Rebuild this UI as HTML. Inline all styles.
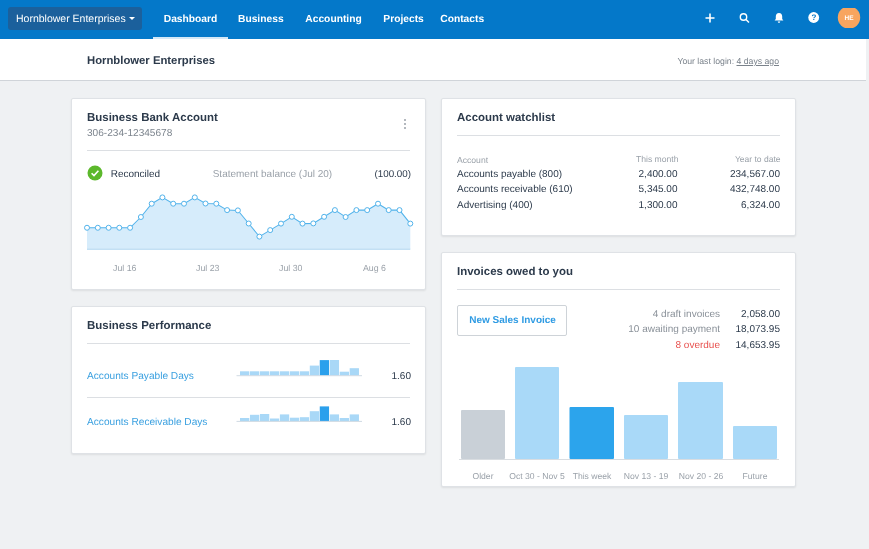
<!DOCTYPE html>
<html><head><meta charset="utf-8">
<style>
*{box-sizing:border-box;margin:0;padding:0}
html,body{width:869px;height:549px;overflow:hidden}
body{text-rendering:geometricPrecision;background:#eff1f3;font-family:"Liberation Sans",Arial,sans-serif;color:#2c3a4b;position:relative;font-size:10px}
.abs{position:absolute}
#nav{position:absolute;left:0;top:0;width:869px;height:39px;background:#0478c9}
#org{position:absolute;left:8px;top:6.500px;width:133.500px;height:23px;background:#1b609c;border-radius:3px;color:#fff;font-size:10.5px;line-height:24.600px;padding-left:8px;white-space:nowrap}
.nl{position:absolute;top:1px;height:38px;line-height:38px;color:#fff;font-weight:bold;font-size:10.250px;transform:translateX(-50%);white-space:nowrap}
#sub{position:absolute;left:0;top:39px;width:865.500px;height:42px;background:#fff;border-bottom:1px solid #d0d4d9}
.card{position:absolute;background:#fff;border:1px solid #dfe2e6;border-radius:2px;box-shadow:0 1px 2px rgba(0,0,0,.08)}
.h{position:absolute;font-weight:bold;font-size:11.470px;color:#2c3a4b;white-space:nowrap}
.hr{position:absolute;height:1px;background:#dcdfe3}
.t{position:absolute;white-space:nowrap}
.g{color:#8a9199}
.r{text-align:right}
</style></head><body>
<div id="nav">
  <div id="org">Hornblower Enterprises <span style="display:inline-block;width:0;height:0;border-left:3.5px solid transparent;border-right:3.5px solid transparent;border-top:3.5px solid #fff;vertical-align:middle;margin-left:0px"></span></div>
  <div class="nl" style="left:190.500px">Dashboard</div>
  <div class="abs" style="left:153px;top:37px;width:75px;height:2px;background:#d4e8f7"></div>
  <div class="nl" style="left:260.800px">Business</div>
  <div class="nl" style="left:333.500px">Accounting</div>
  <div class="nl" style="left:403.600px">Projects</div>
  <div class="nl" style="left:462.200px">Contacts</div>
  <svg class="abs" style="left:700px;top:8.400px" width="162" height="20" viewBox="0 0 162 20">
    <path d="M10 5.5v9M5.5 10h9" stroke="#fff" stroke-width="1.6" fill="none"/>
    <circle cx="43.5" cy="9" r="3.2" stroke="#fff" stroke-width="1.4" fill="none"/><path d="M46 11.5l3 3" stroke="#fff" stroke-width="1.5"/>
    <path d="M79 5c-2.2 0-3.2 1.6-3.2 3.6v2.4l-1.2 1.6h8.8l-1.2-1.6V8.600c0-2-1-3.600-3.200-3.600zM77.800 13.400h2.400c0 .8-.5 1.300-1.200 1.300s-1.200-.5-1.200-1.300z" fill="#fff"/>
    <circle cx="113.700" cy="9.500" r="5.400" fill="#fff"/>
    <text x="114" y="12.400" font-size="8" font-weight="bold" fill="#0478c9" text-anchor="middle" font-family="Liberation Sans">?</text>
    <circle cx="149" cy="9.500" r="11.200" fill="#f8a55f"/>
    <text x="149" y="12" font-size="6.500" font-weight="bold" fill="#fff" text-anchor="middle" font-family="Liberation Sans">HE</text>
  </svg>
</div>
<div id="sub">
  <div class="t" style="left:87px;top:16px;font-weight:bold;font-size:11.300px;line-height:13px">Hornblower Enterprises</div>
  <div class="t" style="right:86.500px;top:15.600px;font-size:8.700px;line-height:12px;color:#7a828b">Your last login: <span style="text-decoration:underline">4 days ago</span></div>
</div>

<!-- Bank card -->
<div class="card" style="left:71px;top:97.500px;width:355px;height:192px"></div>
<div class="h" style="left:87px;top:111.400px;line-height:14px">Business Bank Account</div>
<div class="t" style="left:87px;top:127.500px;font-size:10.100px;line-height:11px;color:#7d858e">306-234-12345678</div>
<svg class="abs" style="left:402px;top:118px" width="6" height="12"><circle cx="3" cy="2" r="1" fill="#9aa1a9"/><circle cx="3" cy="6" r="1" fill="#9aa1a9"/><circle cx="3" cy="10" r="1" fill="#9aa1a9"/></svg>
<div class="hr" style="left:87px;top:150px;width:323px"></div>
<svg class="abs" style="left:87px;top:165px" width="16" height="16"><circle cx="8" cy="8" r="7.500" fill="#5cb82c"/><path d="M4.600 8.200l2.400 2.400 4.400-4.800" stroke="#fff" stroke-width="1.600" fill="none"/></svg>
<div class="t" style="left:110.700px;top:169px;font-size:10px;line-height:12px">Reconciled</div>
<div class="t g" style="left:212.700px;top:169px;font-size:10px;line-height:12px;color:#9aa1a9">Statement balance (Jul 20)</div>
<div class="t r" style="right:458px;top:169px;font-size:9.800px;line-height:12px">(100.00)</div>
<svg class="abs" style="left:80px;top:190px" width="340" height="65" viewBox="80 190 340 65" id="linechart"><polygon points="87.0,249 87.0,227.75 97.8,227.75 108.6,227.75 119.3,227.75 130.1,227.75 140.9,217 151.7,203.7 162.4,197.4 173.2,203.7 184.0,203.7 194.8,197.4 205.5,203.5 216.3,203.7 227.1,210.1 237.9,210.4 248.7,223.5 259.4,236.6 270.2,230.1 281.0,223.6 291.8,216.8 302.5,223.6 313.3,223.4 324.1,216.8 334.9,210.1 345.6,217 356.4,210.1 367.2,210.1 378.0,203.7 388.7,210.1 399.5,210.1 410.3,223.6 410.3,249" fill="#d6ecfb"/><rect x="87.0" y="248.5" width="323.3" height="1.5" fill="#c3e0f4"/><polyline points="87.0,227.75 97.8,227.75 108.6,227.75 119.3,227.75 130.1,227.75 140.9,217 151.7,203.7 162.4,197.4 173.2,203.7 184.0,203.7 194.8,197.4 205.5,203.5 216.3,203.7 227.1,210.1 237.9,210.4 248.7,223.5 259.4,236.6 270.2,230.1 281.0,223.6 291.8,216.8 302.5,223.6 313.3,223.4 324.1,216.8 334.9,210.1 345.6,217 356.4,210.1 367.2,210.1 378.0,203.7 388.7,210.1 399.5,210.1 410.3,223.6" fill="none" stroke="#52b3eb" stroke-width="1.05"/><circle cx="87.0" cy="227.75" r="2.5" fill="#fff" stroke="#52b3eb" stroke-width="1"/><circle cx="97.8" cy="227.75" r="2.5" fill="#fff" stroke="#52b3eb" stroke-width="1"/><circle cx="108.6" cy="227.75" r="2.5" fill="#fff" stroke="#52b3eb" stroke-width="1"/><circle cx="119.3" cy="227.75" r="2.5" fill="#fff" stroke="#52b3eb" stroke-width="1"/><circle cx="130.1" cy="227.75" r="2.5" fill="#fff" stroke="#52b3eb" stroke-width="1"/><circle cx="140.9" cy="217" r="2.5" fill="#fff" stroke="#52b3eb" stroke-width="1"/><circle cx="151.7" cy="203.7" r="2.5" fill="#fff" stroke="#52b3eb" stroke-width="1"/><circle cx="162.4" cy="197.4" r="2.5" fill="#fff" stroke="#52b3eb" stroke-width="1"/><circle cx="173.2" cy="203.7" r="2.5" fill="#fff" stroke="#52b3eb" stroke-width="1"/><circle cx="184.0" cy="203.7" r="2.5" fill="#fff" stroke="#52b3eb" stroke-width="1"/><circle cx="194.8" cy="197.4" r="2.5" fill="#fff" stroke="#52b3eb" stroke-width="1"/><circle cx="205.5" cy="203.5" r="2.5" fill="#fff" stroke="#52b3eb" stroke-width="1"/><circle cx="216.3" cy="203.7" r="2.5" fill="#fff" stroke="#52b3eb" stroke-width="1"/><circle cx="227.1" cy="210.1" r="2.5" fill="#fff" stroke="#52b3eb" stroke-width="1"/><circle cx="237.9" cy="210.4" r="2.5" fill="#fff" stroke="#52b3eb" stroke-width="1"/><circle cx="248.7" cy="223.5" r="2.5" fill="#fff" stroke="#52b3eb" stroke-width="1"/><circle cx="259.4" cy="236.6" r="2.5" fill="#fff" stroke="#52b3eb" stroke-width="1"/><circle cx="270.2" cy="230.1" r="2.5" fill="#fff" stroke="#52b3eb" stroke-width="1"/><circle cx="281.0" cy="223.6" r="2.5" fill="#fff" stroke="#52b3eb" stroke-width="1"/><circle cx="291.8" cy="216.8" r="2.5" fill="#fff" stroke="#52b3eb" stroke-width="1"/><circle cx="302.5" cy="223.6" r="2.5" fill="#fff" stroke="#52b3eb" stroke-width="1"/><circle cx="313.3" cy="223.4" r="2.5" fill="#fff" stroke="#52b3eb" stroke-width="1"/><circle cx="324.1" cy="216.8" r="2.5" fill="#fff" stroke="#52b3eb" stroke-width="1"/><circle cx="334.9" cy="210.1" r="2.5" fill="#fff" stroke="#52b3eb" stroke-width="1"/><circle cx="345.6" cy="217" r="2.5" fill="#fff" stroke="#52b3eb" stroke-width="1"/><circle cx="356.4" cy="210.1" r="2.5" fill="#fff" stroke="#52b3eb" stroke-width="1"/><circle cx="367.2" cy="210.1" r="2.5" fill="#fff" stroke="#52b3eb" stroke-width="1"/><circle cx="378.0" cy="203.7" r="2.5" fill="#fff" stroke="#52b3eb" stroke-width="1"/><circle cx="388.7" cy="210.1" r="2.5" fill="#fff" stroke="#52b3eb" stroke-width="1"/><circle cx="399.5" cy="210.1" r="2.5" fill="#fff" stroke="#52b3eb" stroke-width="1"/><circle cx="410.3" cy="223.6" r="2.5" fill="#fff" stroke="#52b3eb" stroke-width="1"/></svg>
<div class="t g" style="left:113px;top:262.500px;font-size:8.800px;line-height:11px;color:#9aa1a9">Jul 16</div>
<div class="t g" style="left:196px;top:262.500px;font-size:8.800px;line-height:11px;color:#9aa1a9">Jul 23</div>
<div class="t g" style="left:279px;top:262.500px;font-size:8.800px;line-height:11px;color:#9aa1a9">Jul 30</div>
<div class="t g" style="left:363px;top:262.500px;font-size:8.800px;line-height:11px;color:#9aa1a9">Aug 6</div>

<!-- Performance card -->
<div class="card" style="left:71px;top:305.500px;width:355px;height:148px"></div>
<div class="h" style="left:87px;top:319px;line-height:14px">Business Performance</div>
<div class="hr" style="left:87px;top:343px;width:323px"></div>
<div class="t" style="left:87px;top:370.500px;font-size:10.150px;line-height:12px;color:#3aa0e0">Accounts Payable Days</div>
<div class="t r" style="right:458px;top:371.200px;font-size:10px;line-height:12px">1.60</div>
<div class="hr" style="left:87px;top:397px;width:323px"></div>
<div class="t" style="left:87px;top:417px;font-size:10.150px;line-height:12px;color:#3aa0e0">Accounts Receivable Days</div>
<div class="t r" style="right:458px;top:417.400px;font-size:10px;line-height:12px">1.60</div>
<svg class="abs" style="left:236px;top:355px" width="130" height="72" viewBox="236 355 130 72" id="spark"><rect x="240.00" y="371.3" width="9.3" height="4.2" fill="#a9d8f7"/><rect x="249.97" y="371.3" width="9.3" height="4.2" fill="#a9d8f7"/><rect x="259.94" y="371.3" width="9.3" height="4.2" fill="#a9d8f7"/><rect x="269.91" y="371.3" width="9.3" height="4.2" fill="#a9d8f7"/><rect x="279.88" y="371.3" width="9.3" height="4.2" fill="#a9d8f7"/><rect x="289.85" y="371.3" width="9.3" height="4.2" fill="#a9d8f7"/><rect x="299.82" y="371.3" width="9.3" height="4.2" fill="#a9d8f7"/><rect x="309.79" y="365.6" width="9.3" height="9.9" fill="#a9d8f7"/><rect x="319.76" y="360.1" width="9.3" height="15.4" fill="#2ba0ec"/><rect x="329.73" y="360" width="9.3" height="15.5" fill="#a9d8f7"/><rect x="339.70" y="371.7" width="9.3" height="3.8" fill="#a9d8f7"/><rect x="349.67" y="368.2" width="9.3" height="7.3" fill="#a9d8f7"/><rect x="236.5" y="375.2" width="125.5" height="1" fill="#d0dae3"/><rect x="240.00" y="418" width="9.3" height="3.2" fill="#a9d8f7"/><rect x="249.97" y="414.8" width="9.3" height="6.4" fill="#a9d8f7"/><rect x="259.94" y="414" width="9.3" height="7.2" fill="#a9d8f7"/><rect x="269.91" y="418.5" width="9.3" height="2.7" fill="#a9d8f7"/><rect x="279.88" y="414.4" width="9.3" height="6.8" fill="#a9d8f7"/><rect x="289.85" y="417.7" width="9.3" height="3.5" fill="#a9d8f7"/><rect x="299.82" y="417.2" width="9.3" height="4.0" fill="#a9d8f7"/><rect x="309.79" y="411.2" width="9.3" height="10.0" fill="#a9d8f7"/><rect x="319.76" y="406.4" width="9.3" height="14.8" fill="#2ba0ec"/><rect x="329.73" y="414.4" width="9.3" height="6.8" fill="#a9d8f7"/><rect x="339.70" y="418" width="9.3" height="3.2" fill="#a9d8f7"/><rect x="349.67" y="414.4" width="9.3" height="6.8" fill="#a9d8f7"/><rect x="236.5" y="420.9" width="125.5" height="1" fill="#d0dae3"/></svg>

<!-- Watchlist -->
<div class="card" style="left:441px;top:97.500px;width:355px;height:138px"></div>
<div class="h" style="left:457px;top:111.400px;line-height:14px">Account watchlist</div>
<div class="hr" style="left:457px;top:135px;width:323px"></div>
<div class="t g" style="left:457px;top:155px;font-size:8.600px;line-height:10px;color:#9aa1a9">Account</div>
<div class="t g r" style="right:190.500px;top:154px;font-size:8.600px;line-height:10px;color:#9aa1a9">This month</div>
<div class="t g r" style="right:88.500px;top:154px;font-size:8.500px;line-height:10px;color:#9aa1a9">Year to date</div>
<div class="t" style="left:457px;top:169.200px;font-size:10px;line-height:12px">Accounts payable (800)</div>
<div class="t r" style="right:191.500px;top:169.200px;font-size:10px;line-height:12px">2,400.00</div>
<div class="t r" style="right:89px;top:169.200px;font-size:10px;line-height:12px">234,567.00</div>
<div class="t" style="left:457px;top:184.400px;font-size:10px;line-height:12px">Accounts receivable (610)</div>
<div class="t r" style="right:191.500px;top:184.400px;font-size:10px;line-height:12px">5,345.00</div>
<div class="t r" style="right:89px;top:184.400px;font-size:10px;line-height:12px">432,748.00</div>
<div class="t" style="left:457px;top:200.400px;font-size:10px;line-height:12px">Advertising (400)</div>
<div class="t r" style="right:191.500px;top:200.400px;font-size:10px;line-height:12px">1,300.00</div>
<div class="t r" style="right:89px;top:200.400px;font-size:10px;line-height:12px">6,324.00</div>

<!-- Invoices -->
<div class="card" style="left:441px;top:251.500px;width:355px;height:235.500px"></div>
<div class="h" style="left:457px;top:265.400px;line-height:14px">Invoices owed to you</div>
<div class="hr" style="left:457px;top:289.400px;width:323px"></div>
<div class="abs" style="left:457px;top:305.300px;width:109.600px;height:31px;padding-left:1.500px;border:1px solid #ced3d8;border-radius:2px;background:#fff;color:#2f9be3;font-weight:bold;font-size:10px;line-height:30px;text-align:center;white-space:nowrap">New Sales Invoice</div>
<div class="t g r" style="right:149px;top:309.200px;font-size:10px;line-height:12px">4 draft invoices</div>
<div class="t r" style="right:89px;top:309.200px;font-size:10px;line-height:12px">2,058.00</div>
<div class="t g r" style="right:149px;top:324.300px;font-size:10px;line-height:12px">10 awaiting payment</div>
<div class="t r" style="right:89px;top:324.300px;font-size:10px;line-height:12px">18,073.95</div>
<div class="t r" style="right:149px;top:340px;font-size:10px;line-height:12px;color:#e8524f">8 overdue</div>
<div class="t r" style="right:89px;top:340px;font-size:10px;line-height:12px">14,653.95</div>
<svg class="abs" style="left:457px;top:360px" width="325" height="102" viewBox="457 360 325 102">
  <rect x="461" y="410" width="44" height="49" fill="#c9d0d7" rx="1"/>
  <rect x="515" y="367" width="44" height="92" fill="#a9d9f8" rx="1"/>
  <rect x="569.500" y="407" width="44.500" height="52" fill="#2ca4ec" rx="1"/>
  <rect x="624" y="415" width="44" height="44" fill="#a9d9f8" rx="1"/>
  <rect x="678" y="382" width="45" height="77" fill="#a9d9f8" rx="1"/>
  <rect x="733" y="426" width="44" height="33" fill="#a9d9f8" rx="1"/>
  <rect x="459" y="459" width="320" height="1" fill="#d9dde1"/>
</svg>
<div class="t g" style="left:483px;top:471.400px;font-size:8.600px;line-height:10px;transform:translateX(-50%);color:#9aa1a9">Older</div>
<div class="t g" style="left:537px;top:471.400px;font-size:8.600px;line-height:10px;transform:translateX(-50%);color:#9aa1a9">Oct 30 - Nov 5</div>
<div class="t g" style="left:592px;top:471.400px;font-size:8.600px;line-height:10px;transform:translateX(-50%);color:#9aa1a9">This week</div>
<div class="t g" style="left:646px;top:471.400px;font-size:8.600px;line-height:10px;transform:translateX(-50%);color:#9aa1a9">Nov 13 - 19</div>
<div class="t g" style="left:701px;top:471.400px;font-size:8.600px;line-height:10px;transform:translateX(-50%);color:#9aa1a9">Nov 20 - 26</div>
<div class="t g" style="left:755px;top:471.400px;font-size:8.600px;line-height:10px;transform:translateX(-50%);color:#9aa1a9">Future</div>
</body></html>
